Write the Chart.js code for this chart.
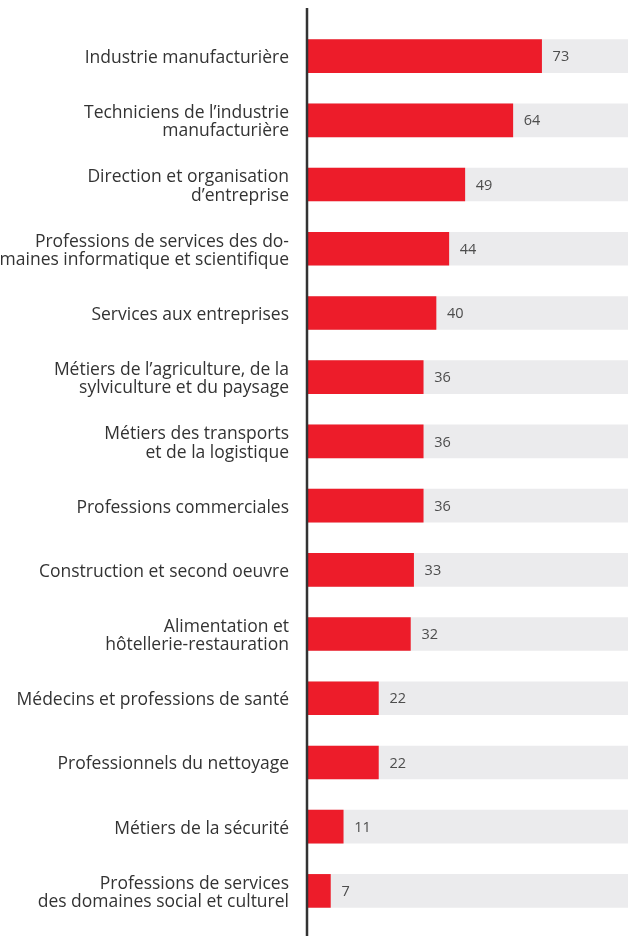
<!DOCTYPE html>
<html>
<head>
<meta charset="utf-8">
<script src="https://cdn.jsdelivr.net/npm/chart.js@4"></script>
<style>
  html, body { margin: 0; padding: 0; background: #fff; }
  #wrap { width: 630px; height: 936px; }
</style>
</head>
<body>
<div id="wrap"><canvas id="chart" width="630" height="936"></canvas></div>
<script>
// categories (multi-line labels as shown)
const categories = [
    ['Industrie manufacturière'],
    ['Techniciens de l’industrie', 'manufacturière'],
    ['Direction et organisation', 'd’entreprise'],
    ['Professions de services des do-', 'maines informatique et scientifique'],
    ['Services aux entreprises'],
    ['Métiers de l’agriculture, de la', 'sylviculture et du paysage'],
    ['Métiers des transports', 'et de la logistique'],
    ['Professions commerciales'],
    ['Construction et second oeuvre'],
    ['Alimentation et', 'hôtellerie-restauration'],
    ['Médecins et professions de santé'],
    ['Professionnels du nettoyage'],
    ['Métiers de la sécurité'],
    ['Professions de services', 'des domaines social et culturel']
];

const values = [73, 64, 49, 44, 40, 36, 36, 36, 33, 32, 22, 22, 11, 7];
const trackValues = [100, 100, 100, 100, 100, 100, 100, 100, 100, 100, 100, 100, 100, 100];

const FONT = "'Open Sans', 'DejaVu Sans', sans-serif";

// value labels next to the red bars
const valueLabels = {
    id: 'valueLabels',
    afterDatasetsDraw(chart) {
        const ctx = chart.ctx;
        const meta = chart.getDatasetMeta(0);
        ctx.save();
        ctx.font = '14.5px ' + FONT;
        ctx.fillStyle = '#4d4d4d';
        ctx.textAlign = 'left';
        ctx.textBaseline = 'middle';
        meta.data.forEach((bar, i) => {
            ctx.fillText(String(values[i]), bar.x + 11, bar.y + 1);
        });
        ctx.restore();
    }
};

// dark vertical axis line, running past the bars
const axisLine = {
    id: 'axisLine',
    afterDraw(chart) {
        const ctx = chart.ctx;
        const x = chart.scales.x.getPixelForValue(0) - 1;
        ctx.save();
        ctx.strokeStyle = '#333333';
        ctx.lineWidth = 2.5;
        ctx.beginPath();
        ctx.moveTo(x, 8);
        ctx.lineTo(x, chart.height);
        ctx.stroke();
        ctx.restore();
    }
};

const ctx = document.getElementById('chart').getContext('2d');

const chart = new Chart(ctx, {
    type: 'bar',
    data: {
        labels: categories,
        datasets: [
            {
                label: 'Valeur',
                data: values,
                backgroundColor: '#ED1C2A',
                barThickness: 33,
                grouped: false
            },
            {
                label: 'Fond',
                data: trackValues,
                backgroundColor: '#EBEBED',
                barThickness: 33,
                grouped: false
            }
        ]
    },
    options: {
        indexAxis: 'y',
        responsive: false,
        animation: false,
        layout: {
            padding: { top: 24, bottom: 13, left: 0, right: 2 }
        },
        plugins: {
            legend: { display: false },
            tooltip: { enabled: false }
        },
        scales: {
            x: {
                display: false,
                min: 0,
                max: 100
            },
            y: {
                afterFit: function(scale) {
                    scale.width = 308;
                    scale.paddingTop = 0;
                    scale.paddingBottom = 0;
                },
                border: { display: false },
                grid: { display: false, drawTicks: false },
                ticks: {
                    padding: 19,
                    labelOffset: 2,
                    color: '#333333',
                    font: { family: FONT, size: 17.5, lineHeight: 1.05 }
                }
            }
        }
    },
    plugins: [valueLabels, axisLine]
});
</script>
</body>
</html>
